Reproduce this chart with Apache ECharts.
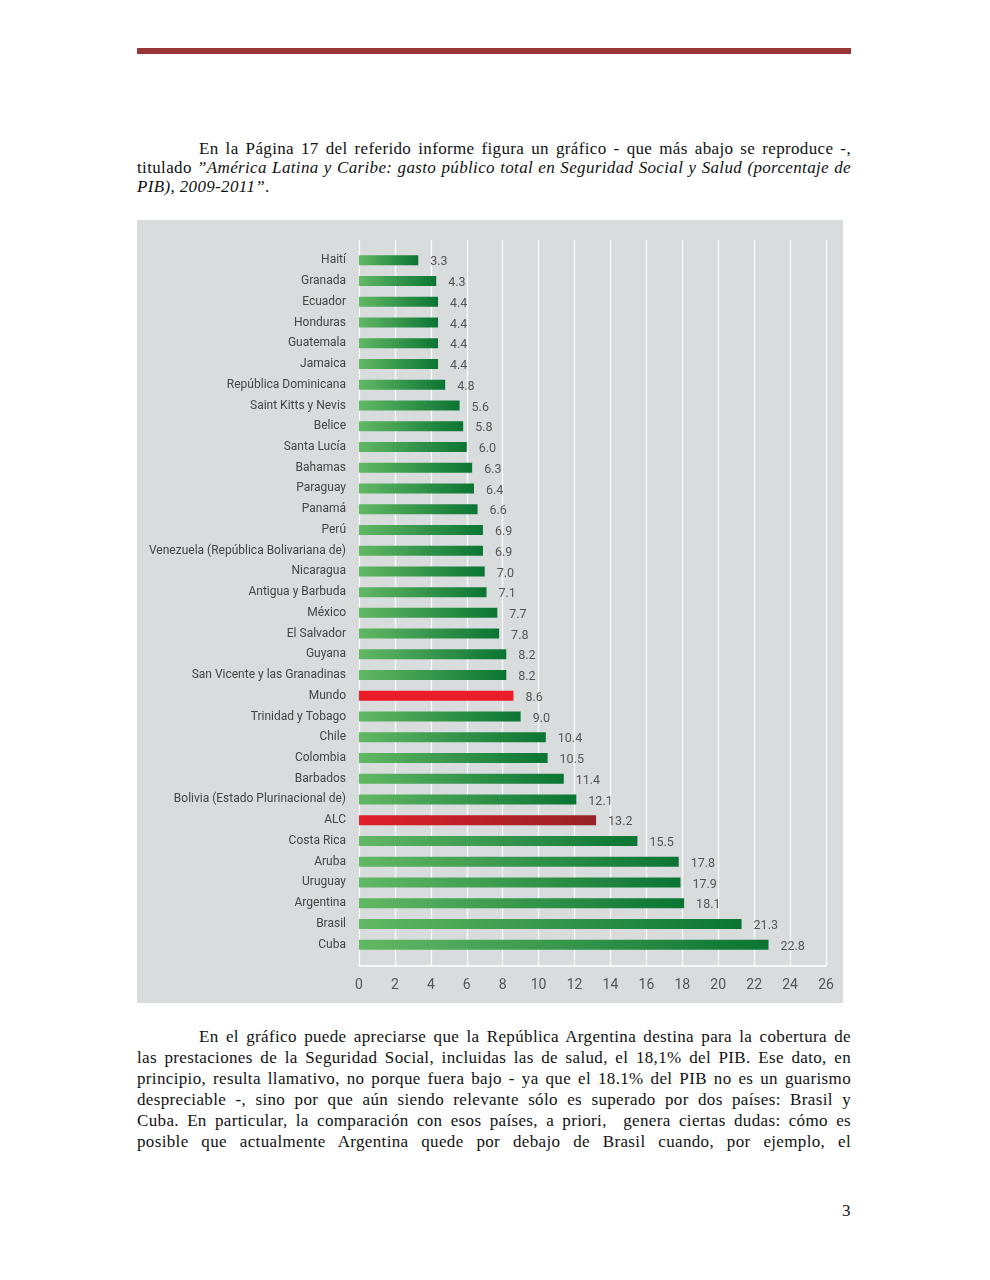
<!DOCTYPE html>
<html>
<head>
<meta charset="utf-8">
<script src="https://cdn.jsdelivr.net/npm/echarts@6/dist/echarts.min.js"></script>
<style>
  html, body { margin: 0; padding: 0; background: #fff; }
  body { width: 990px; height: 1280px; position: relative; overflow: hidden; }
  .rule { position: absolute; left: 137px; top: 48px; width: 714px; height: 6px; background: #983636; }
  .doc { position: absolute; left: 137px; width: 714px; font-family: 'Liberation Serif', 'DejaVu Serif', serif; font-size: 17px; letter-spacing: 0.35px; color: #111; }
  .doc div { text-align: justify; text-align-last: justify; white-space: nowrap; }
  .doc div.last { text-align-last: left; }
  .doc .ind { padding-left: 62px; }
  #p1 { top: 139px; line-height: 19px; }
  #p2 { top: 1026px; line-height: 21px; }
  #chart { position: absolute; left: 137px; top: 220px; width: 706px; height: 783px; background: #d8dcdd; }
  .pnum { position: absolute; left: 842px; top: 1201px; font-family: 'Liberation Serif', serif; font-size: 17px; color: #111; }
</style>
</head>
<body>
<div class="rule"></div>
<div class="doc" id="p1">
  <div class="ind">En la Página 17 del referido informe figura un gráfico - que más abajo se reproduce -,</div>
  <div>titulado <i>”América Latina y Caribe: gasto público total en Seguridad Social y Salud (porcentaje de</i></div>
  <div class="last"><i>PIB), 2009-2011”</i>.</div>
</div>
<div id="chart"></div>
<div class="doc" id="p2">
  <div class="ind">En el gráfico puede apreciarse que la República Argentina destina para la cobertura de</div>
  <div>las prestaciones de la Seguridad Social, incluidas las de salud, el 18,1% del PIB. Ese dato, en</div>
  <div>principio, resulta llamativo, no porque fuera bajo - ya que el 18.1% del PIB no es un guarismo</div>
  <div>despreciable -, sino por que aún siendo relevante sólo es superado por dos países: Brasil y</div>
  <div>Cuba. En particular, la comparación con esos países, a priori,&nbsp; genera ciertas dudas: cómo es</div>
  <div>posible que actualmente Argentina quede por debajo de Brasil cuando, por ejemplo, el</div>
</div>
<div class="pnum">3</div>
<script>
// gasto publico total en seguridad social y salud (% del PIB), 2009-2011
const countries = [
  'Haití', 'Granada', 'Ecuador', 'Honduras', 'Guatemala', 'Jamaica',
  'República Dominicana', 'Saint Kitts y Nevis', 'Belice', 'Santa Lucía',
  'Bahamas', 'Paraguay', 'Panamá', 'Perú', 'Venezuela (República Bolivariana de)',
  'Nicaragua', 'Antigua y Barbuda', 'México', 'El Salvador', 'Guyana',
  'San Vicente y las Granadinas', 'Mundo', 'Trinidad y Tobago', 'Chile',
  'Colombia', 'Barbados', 'Bolivia (Estado Plurinacional de)', 'ALC',
  'Costa Rica', 'Aruba', 'Uruguay', 'Argentina', 'Brasil', 'Cuba'
];
const values = [
  3.3, 4.3, 4.4, 4.4, 4.4, 4.4,
  4.8, 5.6, 5.8, 6.0,
  6.3, 6.4, 6.6, 6.9, 6.9,
  7.0, 7.1, 7.7, 7.8, 8.2,
  8.2, 8.6, 9.0, 10.4,
  10.5, 11.4, 12.1, 13.2,
  15.5, 17.8, 17.9, 18.1, 21.3, 22.8
];
const xTicks = { min: 0, max: 26, interval: 2 };

const labelFont = "Roboto, sans-serif";

const greenBar = new echarts.graphic.LinearGradient(0, 0, 1, 0, [
  { offset: 0, color: '#62b864' },
  { offset: 1, color: '#0a7533' }
]);
const alcBar = new echarts.graphic.LinearGradient(0, 0, 1, 0, [
  { offset: 0, color: '#e01f2b' },
  { offset: 1, color: '#962226' }
]);

const barData = values.map((v, i) => {
  const name = countries[i];
  let color = greenBar;
  if (name === 'Mundo') color = '#ec1c27';
  if (name === 'ALC') color = alcBar;
  return { value: v, itemStyle: { color } };
});

const myChart = echarts.init(document.getElementById('chart'));

const option = {
  backgroundColor: '#d8dcdd',
  animation: false,
  grid: [
    { left: 222, right: 17, top: 30, bottom: 48 },  // bars
    { left: 222, right: 17, top: 20, bottom: 37 }   // grid lines + ticks
  ],
  xAxis: [
    {
      gridIndex: 0, type: 'value', min: xTicks.min, max: xTicks.max, interval: xTicks.interval,
      show: false
    },
    {
      gridIndex: 1, type: 'value', min: xTicks.min, max: xTicks.max, interval: xTicks.interval,
      axisLine: { show: true, lineStyle: { color: '#ffffff', width: 1.5 } },
      axisTick: { show: false },
      splitLine: { show: true, lineStyle: { color: '#ffffff', width: 1.2 } },
      axisLabel: { color: '#555', fontSize: 14, margin: 12, fontFamily: labelFont }
    }
  ],
  yAxis: [
    {
      gridIndex: 0, type: 'category', data: countries, inverse: true,
      axisLine: { show: false }, axisTick: { show: false },
      axisLabel: { color: '#444', fontSize: 12, margin: 13, fontFamily: labelFont }
    },
    { gridIndex: 1, type: 'value', min: 0, max: 1, show: false }
  ],
  series: [
    {
      type: 'bar',
      xAxisIndex: 0, yAxisIndex: 0,
      data: barData,
      barWidth: 10,
      label: {
        show: true, position: 'right', distance: 12, offset: [0, 2],
        color: '#555', fontSize: 12.5, fontFamily: labelFont,
        formatter: p => p.value.toFixed(1)
      }
    }
  ]
};

myChart.setOption(option);
</script>
</body>
</html>
